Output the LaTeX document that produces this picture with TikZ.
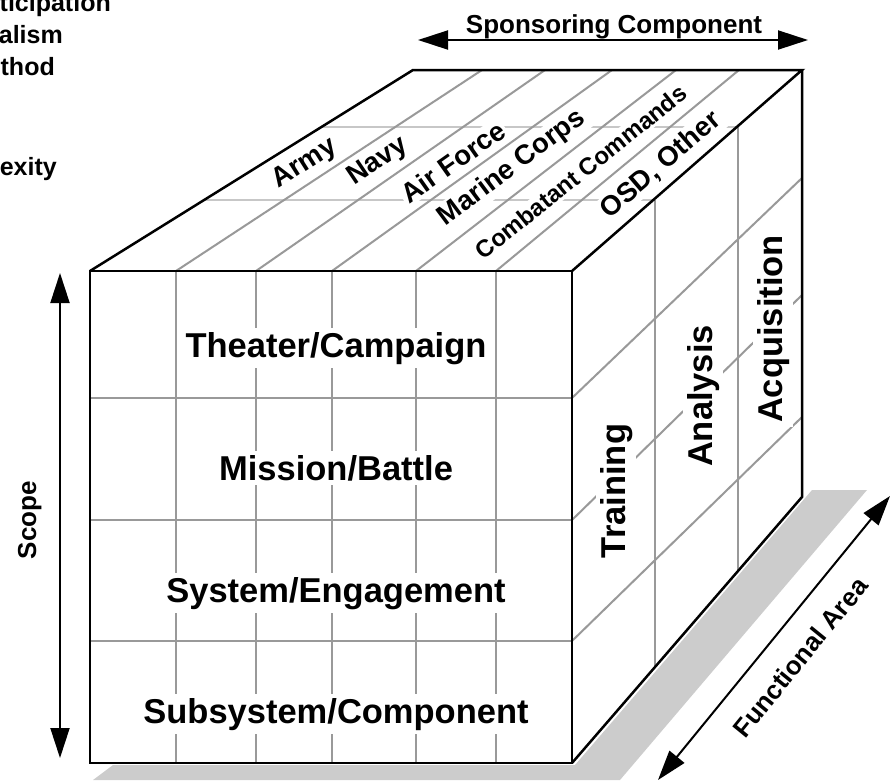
\documentclass[tikz,border=0pt]{standalone}
\usepackage{fontspec}
\setmainfont{Liberation Sans}
\usetikzlibrary{arrows.meta}

\begin{document}
\begin{tikzpicture}[x=1pt, y=-1pt,
    gridline/.style={draw=black!40, line width=2pt},
    depthline/.style={draw=black!22, line width=2pt},
    edgeline/.style={draw=black, line width=2.5pt, line join=miter},
    facelabel/.style={fill=white, inner sep=4pt, font=\bfseries\fontsize{34.5}{40}\selectfont},
    toplabel/.style={fill=white, inner sep=2pt, font=\bfseries\fontsize{27.5}{32}\selectfont},
    axislabel/.style={font=\bfseries\fontsize{26}{30}\selectfont},
    cutlabel/.style={anchor=base east, inner sep=0pt, font=\bfseries\fontsize{25}{30}\selectfont},
    axisarrow/.style={draw=black, line width=2pt, <->, >={Triangle[length=30pt,width=19pt]}}]
    \useasboundingbox (0,0) rectangle (892,782);
    \clip (0,0) rectangle (892,782);
    % Legend cut at the border
    \node[cutlabel] (participation) at (111,11) {Participation};
    \node[cutlabel] (realism) at (63,43) {Realism};
    \node[cutlabel] (method) at (55,75) {Method};
    \node[cutlabel] (complexity) at (57,175) {Complexity};
    % Shadow
    \fill[black!20] (93,780) -- (620,780) -- (867,490) -- (812,490) -- (575,765) -- (113,765) -- cycle;
    % Cube corners
    \coordinate (ftl) at (90,271);
    \coordinate (ftr) at (572,271);
    \coordinate (fbl) at (90,763);
    \coordinate (fbr) at (572,763);
    \coordinate (btl) at (413,70);
    \coordinate (btr) at (802,70);
    \coordinate (bbr) at (802,497);
    \fill[white] (fbl) -- (ftl) -- (btl) -- (btr) -- (bbr) -- (fbr) -- cycle;
    % Grid lines broken by labels
    \foreach \x in {176,256,332,416,496}
        \draw[gridline] (\x,271) -- (\x,763);
    \draw[depthline] (204,200) -- (655,200);
    \draw[depthline] (320,127) -- (738,127);
    \foreach \f/\b in {398/178,520/295,641/417}
        \draw[gridline] (572,\f) -- (802,\b);
    % Scope
    \node[facelabel, anchor=base] (theater) at (336,357) {Theater/Campaign};
    \node[facelabel, anchor=base] (mission) at (336,480) {Mission/Battle};
    \node[facelabel, anchor=base] (system) at (336,602) {System/Engagement};
    \node[facelabel, anchor=base] (subsystem) at (336,723) {Subsystem/Component};
    % Functional area
    \node[facelabel, rotate=90, anchor=base] (training) at (625,491) {Training};
    \node[facelabel, rotate=90, anchor=base] (analysis) at (712,396) {Analysis};
    \node[facelabel, rotate=90, anchor=base] (acquisition) at (782,329) {Acquisition};
    % Sponsoring component
    \node[toplabel, rotate=32.5] (army) at (305,164) {Army};
    \node[toplabel, rotate=34] (navy) at (378,162) {Navy};
    \node[toplabel, rotate=35.2] (airforce) at (453,162) {Air Force};
    \node[toplabel, rotate=36.7] (marines) at (512,168) {Marine Corps};
    \node[toplabel, rotate=38.7, font=\bfseries\fontsize{24}{28}\selectfont] (combatant) at (581,172) {Combatant Commands};
    \node[toplabel, rotate=40.5] (osd) at (661,165) {OSD, Other};
    % Grid lines drawn over the labels
    \foreach \y in {398,520,641}
        \draw[gridline] (90,\y) -- (572,\y);
    \foreach \f/\b in {176/482,256/545,332/612,416/676,496/739}
        \draw[gridline] (\f,271) -- (\b,70);
    \draw[gridline] (655,200) -- (655,667);
    \draw[gridline] (738,127) -- (738,571);
    % Cube edges
    \draw[edgeline] (fbl) -- (ftl) -- (ftr) -- (fbr) -- cycle;
    \draw[edgeline] (ftl) -- (btl) -- (btr) -- (ftr);
    \draw[edgeline] (btr) -- (bbr) -- (fbr);
    % Axes
    \coordinate (sponsorL) at (418,40);
    \coordinate (sponsorR) at (808,40);
    \draw[axisarrow] (sponsorL) -- (sponsorR);
    \node[axislabel, anchor=base] (sponsor) at (614,33) {Sponsoring Component};
    \coordinate (scopeT) at (60,273);
    \coordinate (scopeB) at (60,758);
    \draw[axisarrow] (scopeT) -- (scopeB);
    \node[axislabel, rotate=90, anchor=base] (scope) at (36,520) {Scope};
    \coordinate (areaB) at (658,780);
    \coordinate (areaT) at (890,496);
    \draw[axisarrow] (areaB) -- (areaT);
    \node[axislabel, rotate=50.8] (area) at (800,657) {Functional Area};
\end{tikzpicture}
\end{document}
